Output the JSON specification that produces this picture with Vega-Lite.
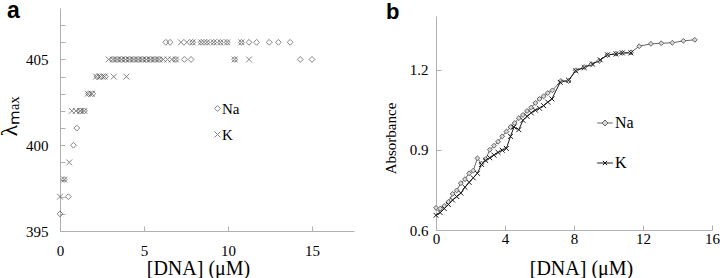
{
  "$schema": "https://vega.github.io/schema/vega-lite/v6.json",
  "padding": {"left": -3, "top": 0, "right": 0, "bottom": 0},
  "spacing": 82,
  "bounds": "flush",
  "datasets": {
    "dsA": [
      {"x": 0, "y": 396, "s": "Na"}, {"x": 0.25, "y": 398, "s": "Na"}, {"x": 0.5, "y": 397, "s": "Na"}, {"x": 0.8, "y": 400, "s": "Na"},
      {"x": 1.0, "y": 401, "s": "Na"}, {"x": 1.2, "y": 402, "s": "Na"}, {"x": 1.45, "y": 402, "s": "Na"}, {"x": 1.7, "y": 403, "s": "Na"},
      {"x": 1.95, "y": 403, "s": "Na"}, {"x": 2.2, "y": 404, "s": "Na"}, {"x": 2.45, "y": 404, "s": "Na"}, {"x": 2.7, "y": 404, "s": "Na"},
      {"x": 3.15, "y": 405, "s": "Na"}, {"x": 3.4, "y": 405, "s": "Na"}, {"x": 3.65, "y": 405, "s": "Na"}, {"x": 3.9, "y": 405, "s": "Na"},
      {"x": 4.15, "y": 405, "s": "Na"}, {"x": 4.4, "y": 405, "s": "Na"}, {"x": 4.65, "y": 405, "s": "Na"}, {"x": 4.9, "y": 405, "s": "Na"},
      {"x": 5.15, "y": 405, "s": "Na"}, {"x": 5.4, "y": 405, "s": "Na"}, {"x": 5.65, "y": 405, "s": "Na"}, {"x": 5.9, "y": 405, "s": "Na"},
      {"x": 6.3, "y": 406, "s": "Na"}, {"x": 6.55, "y": 406, "s": "Na"}, {"x": 6.9, "y": 405, "s": "Na"}, {"x": 7.4, "y": 405, "s": "Na"},
      {"x": 7.8, "y": 405, "s": "Na"}, {"x": 7.9, "y": 406, "s": "Na"}, {"x": 8.4, "y": 406, "s": "Na"}, {"x": 8.75, "y": 406, "s": "Na"},
      {"x": 9.15, "y": 406, "s": "Na"}, {"x": 9.55, "y": 406, "s": "Na"}, {"x": 9.95, "y": 406, "s": "Na"}, {"x": 10.4, "y": 405, "s": "Na"},
      {"x": 10.8, "y": 406, "s": "Na"}, {"x": 11.25, "y": 406, "s": "Na"}, {"x": 11.7, "y": 406, "s": "Na"}, {"x": 12.45, "y": 406, "s": "Na"},
      {"x": 13.0, "y": 406, "s": "Na"}, {"x": 13.7, "y": 406, "s": "Na"}, {"x": 14.3, "y": 405, "s": "Na"}, {"x": 15.0, "y": 405, "s": "Na"},
      {"x": 0, "y": 397, "s": "K"}, {"x": 0.25, "y": 398, "s": "K"}, {"x": 0.55, "y": 399, "s": "K"}, {"x": 0.7, "y": 402, "s": "K"},
      {"x": 0.95, "y": 402, "s": "K"}, {"x": 1.2, "y": 402, "s": "K"}, {"x": 1.45, "y": 402, "s": "K"}, {"x": 1.65, "y": 403, "s": "K"},
      {"x": 1.9, "y": 403, "s": "K"}, {"x": 2.15, "y": 404, "s": "K"}, {"x": 2.4, "y": 404, "s": "K"}, {"x": 2.65, "y": 404, "s": "K"},
      {"x": 3.2, "y": 404, "s": "K"}, {"x": 3.95, "y": 404, "s": "K"}, {"x": 2.9, "y": 405, "s": "K"}, {"x": 3.15, "y": 405, "s": "K"},
      {"x": 3.4, "y": 405, "s": "K"}, {"x": 3.65, "y": 405, "s": "K"}, {"x": 3.9, "y": 405, "s": "K"}, {"x": 4.15, "y": 405, "s": "K"},
      {"x": 4.4, "y": 405, "s": "K"}, {"x": 4.65, "y": 405, "s": "K"}, {"x": 4.9, "y": 405, "s": "K"}, {"x": 5.15, "y": 405, "s": "K"},
      {"x": 5.4, "y": 405, "s": "K"}, {"x": 5.65, "y": 405, "s": "K"}, {"x": 5.9, "y": 405, "s": "K"}, {"x": 6.15, "y": 405, "s": "K"},
      {"x": 6.4, "y": 405, "s": "K"}, {"x": 6.65, "y": 405, "s": "K"}, {"x": 6.9, "y": 405, "s": "K"}, {"x": 7.2, "y": 406, "s": "K"},
      {"x": 7.55, "y": 406, "s": "K"}, {"x": 7.9, "y": 406, "s": "K"}, {"x": 8.4, "y": 406, "s": "K"}, {"x": 8.75, "y": 406, "s": "K"},
      {"x": 9.15, "y": 406, "s": "K"}, {"x": 9.55, "y": 406, "s": "K"}, {"x": 9.95, "y": 406, "s": "K"}, {"x": 10.4, "y": 405, "s": "K"},
      {"x": 10.8, "y": 406, "s": "K"}, {"x": 11.25, "y": 405, "s": "K"}
    ],
    "dsB": [
      {"x": 0.0, "a": 0.683, "ion": "Na"}, {"x": 0.24, "a": 0.68, "ion": "Na"}, {"x": 0.48, "a": 0.69, "ion": "Na"}, {"x": 0.72, "a": 0.705, "ion": "Na"},
      {"x": 0.96, "a": 0.735, "ion": "Na"}, {"x": 1.2, "a": 0.748, "ion": "Na"}, {"x": 1.44, "a": 0.775, "ion": "Na"}, {"x": 1.68, "a": 0.79, "ion": "Na"},
      {"x": 1.92, "a": 0.812, "ion": "Na"}, {"x": 2.16, "a": 0.822, "ion": "Na"}, {"x": 2.4, "a": 0.868, "ion": "Na"}, {"x": 2.64, "a": 0.848, "ion": "Na"},
      {"x": 2.88, "a": 0.865, "ion": "Na"}, {"x": 3.12, "a": 0.9, "ion": "Na"}, {"x": 3.36, "a": 0.915, "ion": "Na"}, {"x": 3.6, "a": 0.93, "ion": "Na"},
      {"x": 3.84, "a": 0.95, "ion": "Na"}, {"x": 4.08, "a": 0.968, "ion": "Na"}, {"x": 4.32, "a": 0.985, "ion": "Na"}, {"x": 4.56, "a": 1.0, "ion": "Na"},
      {"x": 4.8, "a": 1.018, "ion": "Na"}, {"x": 5.04, "a": 1.03, "ion": "Na"}, {"x": 5.28, "a": 1.045, "ion": "Na"}, {"x": 5.52, "a": 1.058, "ion": "Na"},
      {"x": 5.76, "a": 1.075, "ion": "Na"}, {"x": 6.0, "a": 1.09, "ion": "Na"}, {"x": 6.24, "a": 1.1, "ion": "Na"}, {"x": 6.48, "a": 1.112, "ion": "Na"},
      {"x": 6.75, "a": 1.122, "ion": "Na"}, {"x": 7.24, "a": 1.157, "ion": "Na"}, {"x": 7.68, "a": 1.157, "ion": "Na"}, {"x": 8.1, "a": 1.197, "ion": "Na"},
      {"x": 8.59, "a": 1.209, "ion": "Na"}, {"x": 9.0, "a": 1.22, "ion": "Na"}, {"x": 9.46, "a": 1.232, "ion": "Na"}, {"x": 9.94, "a": 1.254, "ion": "Na"},
      {"x": 10.43, "a": 1.259, "ion": "Na"}, {"x": 10.8, "a": 1.262, "ion": "Na"}, {"x": 11.3, "a": 1.264, "ion": "Na"}, {"x": 11.78, "a": 1.287, "ion": "Na"},
      {"x": 12.46, "a": 1.296, "ion": "Na"}, {"x": 13.06, "a": 1.298, "ion": "Na"}, {"x": 13.7, "a": 1.3, "ion": "Na"}, {"x": 14.34, "a": 1.307, "ion": "Na"},
      {"x": 15.0, "a": 1.311, "ion": "Na"},
      {"x": 0.0, "a": 0.655, "ion": "K"}, {"x": 0.24, "a": 0.665, "ion": "K"}, {"x": 0.48, "a": 0.68, "ion": "K"}, {"x": 0.72, "a": 0.695, "ion": "K"},
      {"x": 0.96, "a": 0.712, "ion": "K"}, {"x": 1.2, "a": 0.725, "ion": "K"}, {"x": 1.44, "a": 0.738, "ion": "K"}, {"x": 1.68, "a": 0.76, "ion": "K"},
      {"x": 1.92, "a": 0.778, "ion": "K"}, {"x": 2.16, "a": 0.795, "ion": "K"}, {"x": 2.4, "a": 0.812, "ion": "K"}, {"x": 2.64, "a": 0.845, "ion": "K"},
      {"x": 2.88, "a": 0.86, "ion": "K"}, {"x": 3.12, "a": 0.87, "ion": "K"}, {"x": 3.36, "a": 0.88, "ion": "K"}, {"x": 3.6, "a": 0.89, "ion": "K"},
      {"x": 3.84, "a": 0.898, "ion": "K"}, {"x": 4.08, "a": 0.905, "ion": "K"}, {"x": 4.32, "a": 0.95, "ion": "K"}, {"x": 4.52, "a": 0.985, "ion": "K"},
      {"x": 4.8, "a": 0.975, "ion": "K"}, {"x": 5.04, "a": 1.01, "ion": "K"}, {"x": 5.28, "a": 1.025, "ion": "K"}, {"x": 5.52, "a": 1.038, "ion": "K"},
      {"x": 5.76, "a": 1.048, "ion": "K"}, {"x": 6.0, "a": 1.055, "ion": "K"}, {"x": 6.24, "a": 1.065, "ion": "K"}, {"x": 6.48, "a": 1.078, "ion": "K"},
      {"x": 6.72, "a": 1.09, "ion": "K"}, {"x": 7.2, "a": 1.152, "ion": "K"}, {"x": 7.68, "a": 1.16, "ion": "K"}, {"x": 8.1, "a": 1.195, "ion": "K"},
      {"x": 8.59, "a": 1.207, "ion": "K"}, {"x": 9.07, "a": 1.22, "ion": "K"}, {"x": 9.52, "a": 1.236, "ion": "K"}, {"x": 9.94, "a": 1.255, "ion": "K"},
      {"x": 10.43, "a": 1.258, "ion": "K"}, {"x": 10.8, "a": 1.262, "ion": "K"}, {"x": 11.3, "a": 1.262, "ion": "K"}
    ]
  },
  "resolve": {"scale": {"shape": "independent", "color": "independent"}, "legend": {"shape": "independent", "color": "independent"}},
  "hconcat": [
    {
      "width": 294,
      "height": 223,
      "data": {"name": "dsA"},
      "title": {"text": "a", "anchor": "start", "frame": "group", "font": "Liberation Sans", "fontSize": 23, "fontWeight": "bold", "color": "#000", "baseline": "alphabetic", "offset": 0, "dx": -53, "dy": 33},
      "mark": {"type": "point", "filled": false, "stroke": "#505050", "strokeWidth": 1, "size": 34},
      "encoding": {
        "x": {"field": "x", "type": "quantitative", "scale": {"domain": [0, 17.5], "nice": false},
          "axis": {"values": [0, 5, 10, 15], "title": "[DNA] (μM)", "titleFontSize": 20, "titleX": 138, "titleY": 43, "titleBaseline": "alphabetic", "labelFontSize": 15, "labelPadding": 17}},
        "y": {"field": "y", "type": "quantitative", "scale": {"domain": [395, 408], "nice": false, "zero": false},
          "axis": {"values": [395, 396, 397, 398, 399, 400, 401, 402, 403, 404, 405, 406, 407], "labelExpr": "datum.value % 5 == 0 ? datum.label : ''", "title": "λₘₐₓ", "titleFontSize": 24, "titleX": -39, "titleY": 108, "labelFontSize": 15, "labelPadding": 17}},
        "shape": {"field": "s", "type": "nominal", "scale": {"domain": ["Na", "K"], "range": ["diamond", "M-1,-1L1,1M-1,1L1,-1"]},
          "legend": {"orient": "none", "legendX": 150, "legendY": 93, "title": null, "labelFont": "Liberation Serif", "labelFontSize": 15, "labelColor": "#000", "symbolStrokeColor": "#505050", "symbolStrokeWidth": 1, "symbolSize": 34, "symbolFillColor": "transparent", "rowPadding": 10, "labelOffset": -3, "padding": 0}}
      }
    },
    {
      "width": 276,
      "height": 222,
      "data": {"name": "dsB"},
      "title": {"text": "b", "anchor": "start", "frame": "group", "font": "Liberation Sans", "fontSize": 22, "fontWeight": "bold", "color": "#000", "baseline": "alphabetic", "offset": 0, "dx": -50, "dy": 33},
      "encoding": {
        "x": {"field": "x", "type": "quantitative", "scale": {"domain": [0, 16], "nice": false},
          "axis": {"values": [0, 4, 8, 12, 16], "title": "[DNA] (μM)", "titleFontSize": 20, "titleX": 145, "titleY": 44, "titleBaseline": "alphabetic", "labelFontSize": 15, "labelPadding": 6}},
        "y": {"field": "a", "type": "quantitative", "scale": {"domain": [0.6, 1.4], "range": [222, 8], "nice": false, "zero": false},
          "axis": {"values": [0.6, 0.9, 1.2], "title": "Absorbance", "titleFontSize": 15, "titleX": -38, "titleY": 130, "labelFontSize": 15, "labelPadding": 13}}
      },
      "layer": [
        {
          "mark": {"type": "line", "strokeWidth": 1},
          "encoding": {
            "color": {"field": "ion", "type": "nominal", "scale": {"domain": ["Na", "K"], "range": ["#666666", "#1a1a1a"]},
              "legend": {"orient": "none", "legendX": 161, "legendY": 107, "title": null, "labelFont": "Liberation Serif", "labelFontSize": 16, "labelColor": "#000", "symbolSize": 144, "symbolStrokeWidth": 1, "rowPadding": 24, "labelOffset": 2, "padding": 0,
                "encode": {"symbols": {"update": {
                  "shape": {"signal": "datum.value == 'Na' ? 'M-1.3,0H-0.5M0.5,0H1.3M0,-0.5L0.5,0L0,0.5L-0.5,0Z' : 'M-1.3,0H1.3M-0.35,-0.35L0.35,0.35M-0.35,0.35L0.35,-0.35'"},
                  "stroke": {"signal": "datum.value == 'Na' ? '#666666' : '#1a1a1a'"},
                  "fill": {"signal": "datum.value == 'Na' ? '#d8d8d8' : 'transparent'"},
                  "strokeWidth": {"value": 1},
                  "opacity": {"value": 1}
                }}}}
            }
          }
        },
        {
          "transform": [{"filter": "datum.ion == 'Na'"}],
          "mark": {"type": "point", "shape": "diamond", "filled": false, "fill": "#d8d8d8", "stroke": "#666666", "strokeWidth": 1, "size": 24, "opacity": 1},
          "encoding": {}
        },
        {
          "transform": [{"filter": "datum.ion == 'K'"}],
          "mark": {"type": "point", "shape": "M-1,-1L1,1M-1,1L1,-1", "filled": false, "stroke": "#1a1a1a", "strokeWidth": 1, "size": 24, "opacity": 1},
          "encoding": {}
        }
      ]
    }
  ],
  "config": {
    "view": {"stroke": null},
    "axis": {"domainColor": "#b0b0b0", "tickColor": "#b0b0b0", "tickSize": -5, "labelFont": "Liberation Serif", "titleFont": "Liberation Serif", "labelColor": "#000", "titleColor": "#000", "grid": false, "titleFontWeight": "normal", "labelFlush": false, "labelOverlap": false}
  }
}
